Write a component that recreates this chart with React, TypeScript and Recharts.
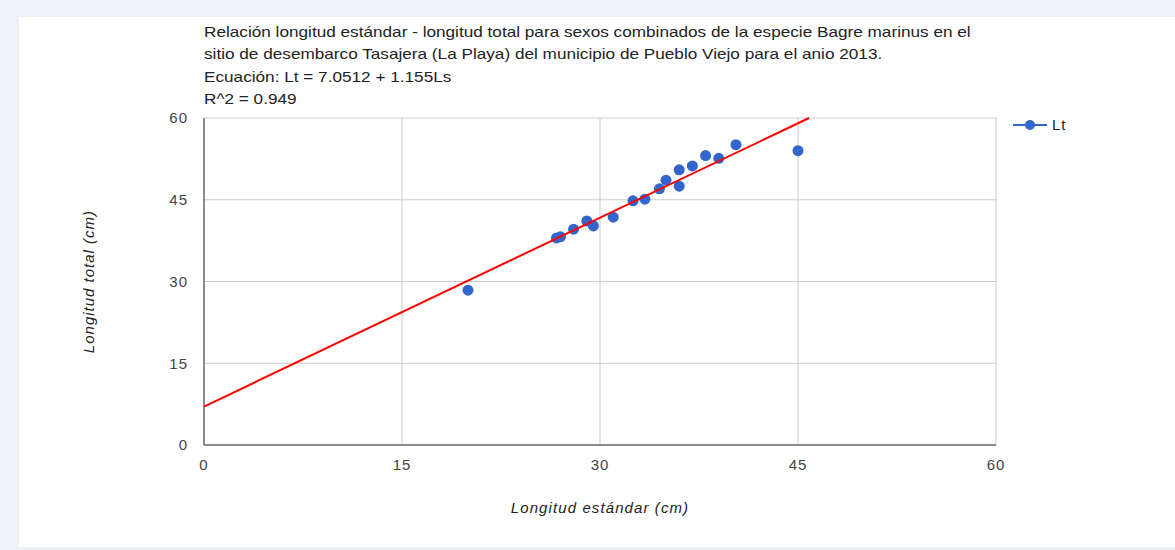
import React from "react";
import {
  ScatterChart,
  Scatter,
  XAxis,
  YAxis,
  CartesianGrid,
  Legend,
} from "recharts";

// Longitud estándar (Ls) y longitud total (Lt), cm
const ls = [20, 26.7, 27, 28, 29, 29.5, 31, 32.5, 33.4, 34.5, 35, 36, 36, 37, 38, 39, 40.3, 45];
const lt = [28.4, 38, 38.2, 39.6, 41.1, 40.2, 41.8, 44.8, 45.1, 47, 48.6, 47.5, 50.5, 51.2, 53.1, 52.6, 55.1, 54];

// recta de regresión (extremos dentro del área)
const trendLs = [0, 45.84];
const trendLt = [7.05, 60];

const ticks = [0, 15, 30, 45, 60];

const titleLines = [
  "Relación longitud estándar - longitud total para sexos combinados de la especie Bagre marinus en el",
  "sitio de desembarco Tasajera (La Playa) del municipio de Pueblo Viejo para el anio 2013.",
  "Ecuación: Lt = 7.0512 + 1.155Ls",
  "R^2 = 0.949",
];

const points = ls.map((x, i) => ({ x, y: lt[i] }));
const trend = trendLs.map((x, i) => ({ x, y: trendLt[i] }));

const FONT = "Arial, 'Liberation Sans', sans-serif";

function Dot(props: any) {
  return <circle cx={props.cx} cy={props.cy} r={5.5} fill="#3366cc" />;
}

function LegendBox() {
  return (
    <svg width={80} height={20}>
      <line x1={3} y1={10} x2={37} y2={10} stroke="#3366cc" strokeWidth={2} />
      <circle cx={20} cy={10} r={5} fill="#3366cc" />
      <text x={42} y={15} fontSize={15} letterSpacing={1} fill="#222" fontFamily={FONT}>
        Lt
      </text>
    </svg>
  );
}

const tickStyle = { fill: "#444", fontSize: 15, fontFamily: FONT, letterSpacing: 1 };

export default function App() {
  return (
    <div
      style={{
        position: "fixed",
        left: 0,
        top: 0,
        width: 1175,
        height: 550,
        background: "#eef2f8",
        fontFamily: FONT,
      }}
    >
      <div
        style={{
          position: "absolute",
          left: 19,
          top: 17,
          width: 1156,
          height: 530,
          background: "#fff",
        }}
      />
      <div
        style={{
          position: "absolute",
          left: 204,
          top: 21,
          fontSize: 15,
          lineHeight: "22.3px",
          color: "#222",
          whiteSpace: "nowrap",
          transform: "scaleX(1.145)",
          transformOrigin: "left top",
        }}
      >
        {titleLines.map((t) => (
          <div key={t}>{t}</div>
        ))}
      </div>
      <div style={{ position: "absolute", left: 0, top: 0 }}>
        <ScatterChart
          width={1175}
          height={550}
          margin={{ top: 118, right: 179, bottom: 0, left: 0 }}
        >
          <CartesianGrid stroke="#cccccc" />
          <XAxis
            type="number"
            dataKey="x"
            domain={[0, 60]}
            ticks={ticks}
            height={105}
            tickLine={false}
            tickSize={0}
            tickMargin={14}
            axisLine={{ stroke: "#333" }}
            tick={tickStyle}
            label={{
              value: "Longitud estándar (cm)",
              position: "insideTop",
              offset: 57,
              fill: "#222",
              fontSize: 15,
              letterSpacing: 1.1,
              fontStyle: "italic",
              fontFamily: FONT,
            }}
          />
          <YAxis
            type="number"
            dataKey="y"
            domain={[0, 60]}
            ticks={ticks}
            width={204}
            tickLine={false}
            tickSize={0}
            tickMargin={16}
            axisLine={{ stroke: "#333" }}
            tick={tickStyle}
            label={{
              value: "Longitud total (cm)",
              angle: -90,
              position: "insideLeft",
              offset: 89,
              style: { textAnchor: "middle" },
              fill: "#222",
              fontSize: 15,
              letterSpacing: 1,
              fontStyle: "italic",
              fontFamily: FONT,
            }}
          />
          <Scatter
            name="Lt"
            data={points}
            fill="#3366cc"
            shape={Dot}
            isAnimationActive={false}
          />
          <Scatter
            name="trend"
            data={trend}
            line={{ stroke: "#ff0000", strokeWidth: 2 }}
            shape={() => null}
            legendType="none"
            isAnimationActive={false}
          />
          <Legend
            layout="vertical"
            align="center"
            verticalAlign="middle"
            wrapperStyle={{ left: 1010, top: 115, width: 80 }}
            content={() => <LegendBox />}
          />
        </ScatterChart>
      </div>
    </div>
  );
}
